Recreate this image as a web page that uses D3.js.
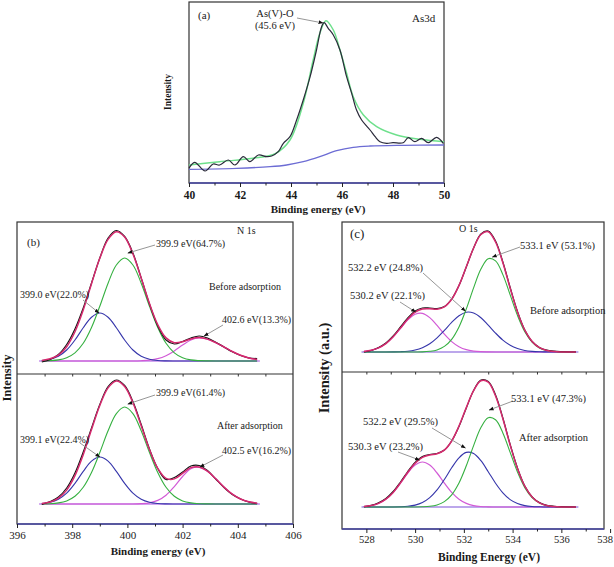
<!DOCTYPE html>
<html><head><meta charset="utf-8">
<script src="https://cdn.jsdelivr.net/npm/d3@7"></script>
<style>
body{margin:0;background:#fff}
svg{display:block}
text{font-family:"Liberation Serif","Times New Roman",serif;fill:#1a1a1a}
</style>
</head><body>
<svg id="c" width="614" height="567"></svg>
<script>
// ---------------- DATA ----------------
// (a) As 3d
const asRawE = [40.0,40.22,40.63,40.95,41.2,41.54,41.8,42.13,42.39,42.72,43.05,43.24,43.5,43.7,43.96,44.22,44.48,44.75,45.0,45.2,45.3,45.46,45.66,45.92,46.18,46.38,46.57,46.77,47.1,47.3,47.49,47.75,48.0,48.4,48.6,48.86,49.12,49.38,49.71,49.97];
const asRawI = [14.7,20.7,12,19,18,23,18,26.3,21.3,28,26.3,27,31.3,39.7,46.3,63,83,106.3,133,156.3,160.3,154.7,148,133,106.3,89.7,73,63,53,46.3,41.3,39.7,40.3,40.3,45.3,41.3,44.7,40.3,45.7,39.7];
const asFitE = [40.0,41.2,42.5,43.4,43.96,44.48,44.87,45.13,45.37,45.66,45.92,46.18,46.44,46.84,47.36,48.14,49.06,50.0];
const asFitI = [18,21.3,24.7,29.7,43,79.7,123,149.7,162.3,153,133,109.7,86.3,68,56.3,48,43.7,41.3];
const asBgE = [40.0,41.87,43.18,43.83,44.48,45.13,45.79,46.44,47.1,48.4,50.0];
const asBgI = [13.7,14.7,16.3,18,21.3,26.3,32.3,35.7,37,37.7,38];
const asTicks = [40,42,44,46,48,50];

// (b) N 1s  (intensities above the baseline)
const n1sE = [396.9,397.2,397.5,397.8,398.1,398.4,398.7,399.0,399.3,399.6,399.9,400.2,400.5,400.8,401.1,401.4,401.7,402.0,402.3,402.6,402.9,403.2,403.5,403.8,404.1,404.4,404.7];
const n1sBeforeBase = 13;
const n1sBeforeRaw = [-1.0,1.5,6.5,16.5,32,53,78,103,123,130.5,124.5,108,83,57,35,21,17,19.5,23,25,23,18.8,14,9.2,5.5,3,2.5];
const n1sBeforeEnv = [0.6,2.2,5.9,14.3,29.2,51.0,77.3,102.7,121.6,129.3,124.0,107.0,82.9,57.4,36.3,23.1,18.3,19.2,22.1,23.4,21.9,18.4,14.0,9.5,5.7,3.1,1.5];
const n1sBefore3990 = [0.5,1.8,4.8,11.0,21.0,33.3,43.8,48,43.8,33.3,21.0,11.0,4.8,1.8,0.5,0.1,0,0,0,0,0,0,0,0,0,0,0];
const n1sBefore3999 = [0.1,0.35,1.1,3.3,8.2,17.7,33.5,54.7,77.8,96.0,103,96.0,77.8,54.7,33.5,17.7,8.2,3.3,1.1,0.35,0.1,0,0,0,0,0,0];
const n1sBefore4026 = [0,0,0,0,0,0,0,0,0,0,0,0,0.25,0.85,2.3,5.3,10.1,15.9,21.0,23,21.8,18.4,14.0,9.5,5.7,3.1,1.5];
const n1sAfterBase = 20;
const n1sAfterRaw = [-0.5,2.5,7,16,31,52,76,99.5,117.5,124,118.5,102.5,79.5,55,35.5,24.5,26.5,32,38,38.5,33.5,25,16.5,9.5,5,2,0.5];
const n1sAfterEnv = [0.6,2.0,5.8,13.9,28.3,49.3,74.4,98.5,116.1,123.0,117.6,101.2,78.2,54.4,35.6,25.6,25.1,30.6,36.4,37.0,32.8,25.2,16.9,9.9,5.0,2.2,0.8];
const n1sAfter3991 = [0.5,1.7,4.7,10.8,20.6,32.6,42.9,47,42.9,32.6,20.6,10.8,4.7,1.7,0.5,0.1,0,0,0,0,0,0,0,0,0,0,0];
const n1sAfter3999 = [0.1,0.3,1.1,3.1,7.7,16.7,31.5,51.5,73.2,90.4,97,90.4,73.2,51.5,31.5,16.7,7.7,3.1,1.1,0.3,0.1,0,0,0,0,0,0];
const n1sAfter4025 = [0,0,0,0,0,0,0,0,0,0,0,0,0.3,1.2,3.6,8.8,17.4,27.5,35.3,36.7,32.7,25.2,16.9,9.9,5.0,2.2,0.8];
const n1sTicks = [396,398,400,402,404,406];

// (c) O 1s
const o1sE = [527.9,528.2,528.5,528.8,529.1,529.4,529.7,530.0,530.3,530.6,530.9,531.2,531.5,531.8,532.1,532.4,532.7,533.0,533.3,533.6,533.9,534.2,534.5,534.8,535.1,535.4,535.7,536.0,536.3,536.6];
const o1sBeforeBase = 20;
const o1sBeforeRaw = [0.2,1.5,4.5,9,16,25,34,41,44,44,43.5,45.5,53,66.5,85,104,118,121,111,90,64.5,40.5,22,10.5,4.5,1.8,0.8,0.4,0.2,0.1];
const o1sBeforeEnv = [0.6,1.7,4.1,8.4,15.3,24.0,32.9,39.8,43.0,43.3,42.8,45.1,52.7,66.6,85.2,104.0,117.5,120.3,110.0,89.3,63.8,40.0,21.8,10.5,4.3,1.6,0.5,0.1,0,0];
const o1sBefore5302 = [0.6,1.7,4.1,8.4,15.2,23.7,32.1,37.8,38.7,34.4,26.6,17.9,10.4,5.3,2.3,0.9,0.3,0.1,0,0,0,0,0,0,0,0,0,0,0,0];
const o1sBefore5322 = [0,0,0,0,0.1,0.3,0.8,2.0,4.3,8.2,14.1,21.6,29.6,36.2,39.8,39.0,34.3,26.9,18.9,11.9,6.7,3.4,1.5,0.6,0.2,0.1,0,0,0,0];
const o1sBefore5331 = [0,0,0,0,0,0,0,0,0.1,0.7,2.1,5.6,12.7,25.1,43.1,64.1,82.9,93.3,91.1,77.4,57.1,36.6,20.3,9.9,4.1,1.5,0.5,0.1,0,0];
const o1sAfterBase = 22;
const o1sAfterRaw = [0.3,1.6,4.2,8.5,15.5,25,35.5,44.5,50.5,52.5,53.5,57,66,80.5,99,116.5,127,125.5,112,89,62.5,39,21,10.2,4.4,1.6,0.7,0.3,0.1,0];
const o1sAfterEnv = [0.5,1.4,3.6,7.8,14.6,24.1,34.7,43.8,49.7,52.0,53.2,56.8,66.0,81.0,99.4,116.3,126.2,124.8,111.0,88.3,62.0,38.5,20.8,10.0,4.2,1.4,0.5,0.1,0,0];
const o1sAfter5303 = [0.5,1.4,3.6,7.8,14.6,23.9,34.0,41.9,45,41.9,34.0,23.9,14.6,7.8,3.6,1.4,0.5,0.2,0,0,0,0,0,0,0,0,0,0,0,0];
const o1sAfter5322 = [0,0,0,0,0,0.2,0.7,1.9,4.5,9.4,17.1,27.5,39.2,49.2,54.6,53.5,46.3,35.3,23.8,14.2,7.4,3.5,1.4,0.5,0.2,0,0,0,0,0];
const o1sAfter5331 = [0,0,0,0,0,0,0,0,0.2,0.7,2.1,5.4,12.2,24.0,41.2,61.4,79.4,89.3,87.2,74.1,54.6,35.0,19.4,9.5,4.0,1.4,0.5,0.1,0,0];
const o1sTicks = [528,530,532,534,536,538];

// ---------------- DRAWING ----------------
const svg = d3.select('#c');
const defs = svg.append('defs');
defs.append('marker').attr('id','ah').attr('viewBox','0 0 8 8').attr('refX',7).attr('refY',4)
  .attr('markerUnits','userSpaceOnUse').attr('markerWidth',5).attr('markerHeight',5).attr('orient','auto')
  .append('path').attr('d','M0,1 L8,4 L0,7 z').attr('fill','#111');

const COL = {raw:'#141414', env:'#d62a6e', green:'#35b040', blue:'#3535aa', pink:'#d25ad6', base:'#a54ee0'};

const xa = d3.scaleLinear([40,50],[189,444]);
const ya = d3.scaleLinear([0,181],[183,2]);
const xb = d3.scaleLinear([396,406],[17,293]);
const ybU = d3.scaleLinear([0,152],[374,222]);
const ybL = d3.scaleLinear([0,150],[524,374]);
const xc = d3.scaleLinear([527,537.75],[342,604]);
const ycU = d3.scaleLinear([0,150],[372,222]);
const ycL = d3.scaleLinear([0,157],[529,372]);

function series(xs, ys, xS, yS, base, color, w){
  const pts = xs.map((x,i)=>[x, ys[i]+base]);
  svg.append('path').datum(pts)
    .attr('d', d3.line().curve(d3.curveCatmullRom.alpha(0.5)).x(d=>xS(d[0])).y(d=>yS(d[1])))
    .attr('fill','none').attr('stroke',color).attr('stroke-width',w).attr('stroke-linejoin','round');
}
function txt(t, x, y, size, opts={}){
  const e = svg.append('text').attr('x',x).attr('y',y).attr('font-size',size).text(t);
  if(opts.anchor) e.attr('text-anchor',opts.anchor);
  if(opts.bold) e.attr('font-weight','bold');
  if(opts.rot) e.attr('transform',`rotate(-90,${x},${y})`);
  if(opts.len) e.attr('textLength',opts.len).attr('lengthAdjust','spacingAndGlyphs');
  return e;
}
function note(t, tx, ty, size, sx, sy, ex, ey){
  svg.append('line').attr('x1',sx).attr('y1',sy).attr('x2',ex).attr('y2',ey)
    .attr('stroke','#8a8a8a').attr('stroke-width',0.9).attr('marker-end','url(#ah)');
  txt(t, tx, ty, size);
}
function bottomAxis(xS, y, major, minor, size, bold, pad){
  const g = svg.append('g').attr('transform',`translate(0,${y})`)
    .call(d3.axisBottom(xS).tickValues(major).tickSize(4).tickPadding(pad).tickFormat(d3.format('d')));
  g.select('.domain').remove();
  g.selectAll('line').attr('stroke','#222');
  g.selectAll('text').attr('font-size',size).attr('font-family','"Liberation Serif","Times New Roman",serif')
    .attr('font-weight',bold?'bold':'normal').attr('fill','#1a1a1a');
  if(minor){
    const m = svg.append('g').attr('transform',`translate(0,${y})`)
      .call(d3.axisBottom(xS).tickValues(minor).tickSize(2.5).tickFormat(''));
    m.select('.domain').remove(); m.selectAll('line').attr('stroke','#222');
  }
  return g;
}
function innerTicks(xS, y, vals){
  const m = svg.append('g').attr('transform',`translate(0,${y})`)
    .call(d3.axisBottom(xS).tickValues(vals).tickSize(2.5).tickFormat(''));
  m.select('.domain').remove(); m.selectAll('line').attr('stroke','#333');
}
function box(x0,y0,x1,y1){
  svg.append('rect').attr('x',x0).attr('y',y0).attr('width',x1-x0).attr('height',y1-y0)
    .attr('fill','none').attr('stroke','#333').attr('stroke-width',1.2);
  svg.append('line').attr('x1',x0).attr('x2',x1).attr('y1',y1).attr('y2',y1)
    .attr('stroke','#4a4aa8').attr('stroke-width',1.3);
}

// ----- panel (a)
box(189,2,444,183);
series(asBgE, asBgI, xa, ya, 0, '#6c6cd4', 1.3);
series(asFitE, asFitI, xa, ya, 0, '#6ee08c', 1.5);
series(asRawE, asRawI, xa, ya, 0, '#2a2a3a', 1.2);
bottomAxis(xa, 183, asTicks, [41,43,45,47,49], 11.5, true, 4);
txt('(a)', 198, 19, 11);
txt('As3d', 412, 22, 11);
txt('As(V)-O', 275, 17, 10.5, {anchor:'middle'});
txt('(45.6 eV)', 275, 29, 10.5, {anchor:'middle'});
svg.append('line').attr('x1',297).attr('y1',18).attr('x2',xa(45.25)).attr('y2',ya(160))
  .attr('stroke','#8a8a8a').attr('stroke-width',0.9).attr('marker-end','url(#ah)');
txt('Binding energy (eV)', 318, 213, 11, {anchor:'middle', bold:true});
txt('Intensity', 171, 92, 9.5, {anchor:'middle', bold:true, rot:true});

// ----- panel (b)
box(17,222,293,524);
svg.append('line').attr('x1',17).attr('x2',293).attr('y1',374).attr('y2',374).attr('stroke','#333').attr('stroke-width',1.2);
innerTicks(xb, 374, [397,398,399,400,401,402,403,404,405]);
function n1sPanel(yS, base, raw, env, c1, c2, c3){
  svg.append('line').attr('x1',xb(396.8)).attr('x2',xb(404.8)).attr('y1',yS(base)).attr('y2',yS(base))
    .attr('stroke',COL.base).attr('stroke-width',1.2);
  series(n1sE, c3, xb, yS, base, COL.pink, 1.2);
  series(n1sE, c1, xb, yS, base, COL.blue, 1.1);
  series(n1sE, c2, xb, yS, base, COL.green, 1.1);
  series(n1sE, raw, xb, yS, base, COL.raw, 1.2);
  series(n1sE, env, xb, yS, base, COL.env, 1.5);
}
n1sPanel(ybU, n1sBeforeBase, n1sBeforeRaw, n1sBeforeEnv, n1sBefore3990, n1sBefore3999, n1sBefore4026);
n1sPanel(ybL, n1sAfterBase, n1sAfterRaw, n1sAfterEnv, n1sAfter3991, n1sAfter3999, n1sAfter4025);
bottomAxis(xb, 524, n1sTicks, [397,399,401,403,405], 11, false, 3);
txt('(b)', 27, 246, 11);
txt('N 1s', 237, 234, 10);
note('399.9 eV(64.7%)', 156, 247, 10, 155, 245, xb(400.02), ybU(121));
txt('Before adsorption', 209, 290, 10);
note('399.0 eV(22.0%)', 20, 298, 10, 83, 300, xb(398.97), ybU(61));
note('402.6 eV(13.3%)', 222, 323, 10, 223, 325, xb(402.78), ybU(38));
note('399.9 eV(61.4%)', 156, 396, 10, 155, 395, xb(400.02), ybL(120));
txt('After adsorption', 217, 429, 10);
note('399.1 eV(22.4%)', 20, 443, 10, 80, 443, xb(399.0), ybL(67));
note('402.5 eV(16.2%)', 222, 454, 10, 223, 455, xb(402.63), ybL(57));
txt('Binding energy (eV)', 158, 555, 11, {anchor:'middle', bold:true});
txt('Intensity', 10.5, 378, 12.5, {anchor:'middle', bold:true, rot:true});

// ----- panel (c)
box(342,222,604,529);
svg.append('line').attr('x1',342).attr('x2',604).attr('y1',372).attr('y2',372).attr('stroke','#333').attr('stroke-width',1.2);
innerTicks(xc, 372, [528,529,530,531,532,533,534,535,536,537]);
function o1sPanel(yS, base, raw, env, c1, c2, c3){
  svg.append('line').attr('x1',xc(527.8)).attr('x2',xc(536.7)).attr('y1',yS(base)).attr('y2',yS(base))
    .attr('stroke','#7a50d8').attr('stroke-width',1.2);
  series(o1sE, c1, xc, yS, base, COL.pink, 1.2);
  series(o1sE, c2, xc, yS, base, COL.blue, 1.1);
  series(o1sE, c3, xc, yS, base, COL.green, 1.1);
  series(o1sE, raw, xc, yS, base, COL.raw, 1.2);
  series(o1sE, env, xc, yS, base, COL.env, 1.5);
}
o1sPanel(ycU, o1sBeforeBase, o1sBeforeRaw, o1sBeforeEnv, o1sBefore5302, o1sBefore5322, o1sBefore5331);
o1sPanel(ycL, o1sAfterBase, o1sAfterRaw, o1sAfterEnv, o1sAfter5303, o1sAfter5322, o1sAfter5331);
const axC = bottomAxis(xc, 529, o1sTicks, [529,531,533,535,537], 10.5, false, 3);
// last label sits past the frame; keep it inside the image
axC.selectAll('.tick').filter(d=>d===538).select('text').attr('text-anchor','end').attr('x',2.5);
txt('(c)', 350, 238, 13);
txt('O 1s', 459, 232, 10);
note('533.1 eV (53.1%)', 520, 249, 10.5, 520, 247, xc(533.17), ycU(115));
note('532.2 eV (24.8%)', 348, 271, 10.5, 423, 273, xc(532.06), ycU(61));
note('530.2 eV (22.1%)', 350, 299, 10.5, 400, 302, xc(530.02), ycU(60));
txt('Before adsorption', 530, 314, 10.5);
note('533.1 eV (47.3%)', 511, 402, 10.5, 513, 401, xc(533.04), ycL(119));
note('532.2 eV (29.5%)', 363, 425, 10.5, 432, 428, xc(532.06), ycL(81));
note('530.3 eV (23.2%)', 348, 450, 10.5, 398, 452, xc(530.18), ycL(69));
txt('After adsorption', 519, 441, 10.5);
txt('Binding Energy (eV)', 489, 561, 12.5, {anchor:'middle', bold:true, len:102});
txt('Intensity (a.u.)', 329, 368, 14.5, {anchor:'middle', bold:true, rot:true});
</script>
</body></html>
